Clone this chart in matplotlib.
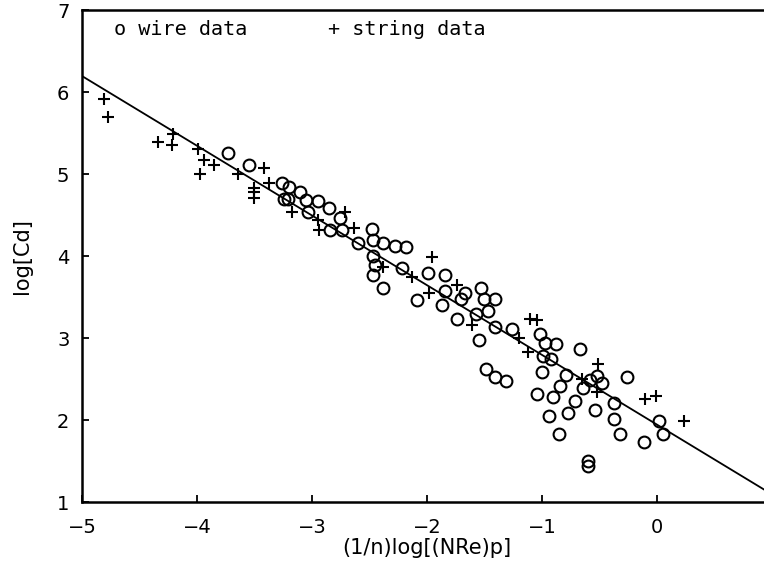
import numpy as np
import matplotlib
matplotlib.use("Agg")
import matplotlib.pyplot as plt

# wire data (circles)
wire_x = [-3.73, -3.55, -3.26, -3.24, -3.20, -3.10, -3.21, -3.05, -2.95, -3.03,
          -2.85, -2.76, -2.84, -2.74, -2.60, -2.48, -2.47, -2.38, -2.28, -2.18,
          -2.47, -2.45, -2.47, -2.38, -2.22, -1.99, -2.09, -1.84, -1.87, -1.84,
          -1.70, -1.67, -1.53, -1.50, -1.41, -1.47, -1.57, -1.74, -1.55, -1.41,
          -1.26, -1.02, -0.97, -0.88, -0.99, -0.92, -0.67, -1.49, -1.41, -1.31,
          -1.00, -0.79, -1.04, -0.90, -0.84, -0.94, -0.77, -0.71, -0.85, -0.64,
          -0.58, -0.52, -0.48, -0.54, -0.37, -0.37, -0.32, -0.26, -0.11, 0.02,
          0.05, -0.60, -0.60]
wire_y = [5.26, 5.11, 4.90, 4.70, 4.85, 4.78, 4.70, 4.69, 4.67, 4.54,
          4.59, 4.47, 4.32, 4.32, 4.17, 4.33, 4.20, 4.16, 4.13, 4.12,
          4.01, 3.90, 3.77, 3.62, 3.86, 3.80, 3.47, 3.77, 3.41, 3.58,
          3.48, 3.56, 3.62, 3.48, 3.48, 3.33, 3.30, 3.24, 2.98, 3.14,
          3.12, 3.05, 2.95, 2.93, 2.79, 2.75, 2.87, 2.63, 2.53, 2.48,
          2.59, 2.56, 2.32, 2.29, 2.42, 2.05, 2.09, 2.24, 1.83, 2.39,
          2.49, 2.54, 2.46, 2.13, 2.21, 2.02, 1.84, 2.53, 1.74, 1.99,
          1.83, 1.44, 1.51]

# string data (pluses)
string_x = [-4.81, -4.77, -4.34, -4.21, -4.22, -3.99, -3.94, -3.85, -3.97, -3.64,
            -3.50, -3.50, -3.42, -3.37, -3.50, -3.17, -2.95, -2.94, -2.71, -2.63,
            -2.38, -2.13, -1.96, -1.98, -1.74, -1.61, -1.20, -1.10, -1.04, -1.12,
            -0.51, -0.65, -0.52, -0.10, -0.01, 0.24]
string_y = [5.92, 5.70, 5.40, 5.49, 5.36, 5.31, 5.17, 5.11, 5.00, 5.00,
            4.83, 4.71, 5.08, 4.89, 4.79, 4.54, 4.44, 4.32, 4.54, 4.35,
            3.87, 3.75, 3.99, 3.56, 3.65, 3.16, 3.00, 3.24, 3.22, 2.84,
            2.69, 2.50, 2.35, 2.26, 2.30, 1.99]

# fitted line endpoints
fit_x = [-5, 1]
fit_y = [6.2, 1.1]

fig = plt.figure(figsize=(7.64, 5.63), dpi=100)
ax = fig.add_axes([0.1073, 0.1075, 0.903, 0.874])

ax.plot(fit_x, fit_y, color="black", lw=1.3)
ax.plot(wire_x, wire_y, "o", mfc="none", mec="black", ms=8.5, mew=1.5)
ax.plot(string_x, string_y, "+", color="black", ms=9, mew=1.5)

ax.text(-4.72, 6.77, "o wire data", fontsize=14.5, family="DejaVu Sans Mono",
        va="center", ha="left")
ax.text(-2.86, 6.77, "+ string data", fontsize=14.5, family="DejaVu Sans Mono",
        va="center", ha="left")

ax.set_xlim(-5, 1)
ax.set_ylim(1, 7)
ax.set_xticks([-5, -4, -3, -2, -1, 0, 1])
ax.set_yticks([1, 2, 3, 4, 5, 6, 7])
ax.tick_params(direction="in", length=5, width=1.3, labelsize=14)
ax.tick_params(axis="x", pad=11)
ax.tick_params(axis="y", pad=9)
for s in ax.spines.values():
    s.set_linewidth(1.8)

ax.set_xlabel("(1/n)log[(NRe)p]", fontsize=15, labelpad=1)
ax.set_ylabel("log[Cd]", fontsize=15, labelpad=18)

fig.savefig("out.png", dpi=100)
